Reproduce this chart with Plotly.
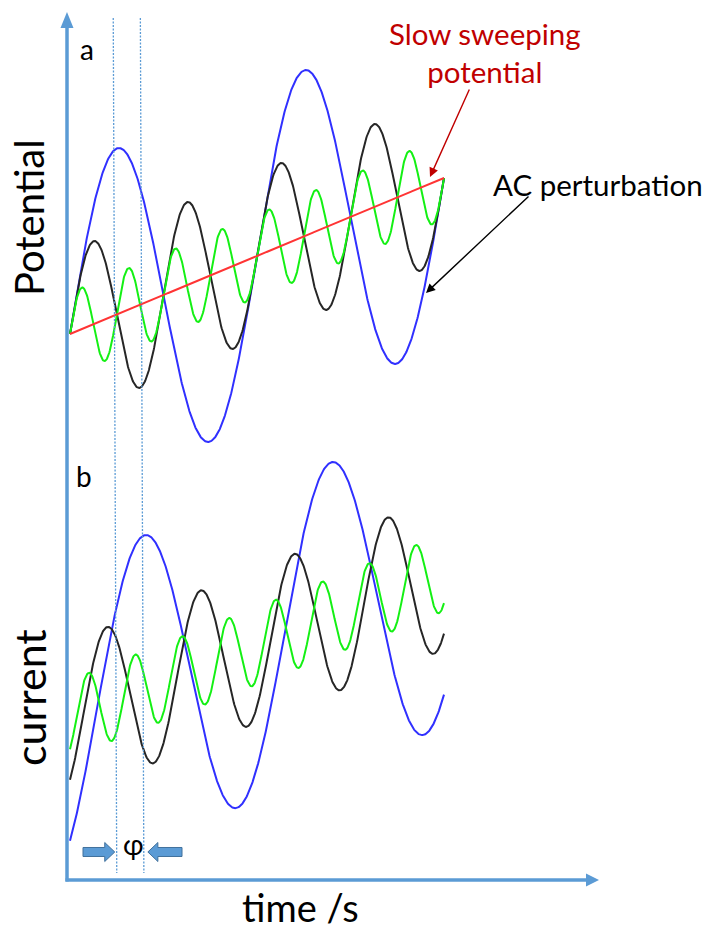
import numpy as np
import plotly.graph_objects as go

W, H = 707, 932

# ---- waveform description -------------------------------------------------
# three AC perturbations superimposed on a slow potential sweep (panel a)
# and the corresponding current responses (panel b)
wave_colors = ["#3030FF", "#262626", "#14F014"]     # blue, black, green
wave_cycles = [2, 4, 8]                              # cycles across the sweep
amp_potential = [2.0, 1.0, 0.5]                      # panel a amplitudes
amp_current = [1.86, 0.93, 0.465]                    # panel b amplitudes
phase_lag = [0.145, 0.145, 0.145]                    # lag of current, cycles
sweep_potential = [0.0, 1.88]                        # DC ramp start / end
sweep_current = [0.0, 1.76]                          # current baseline start / end

# ---- layout helpers (pixel -> paper) -------------------------------------
def px(x):
    return x / W

def py(y):
    return 1 - y / H

AXIS_BLUE = "#5B9BD5"
FONT = "Lato"

t = np.linspace(0, 1, 800)
fig = go.Figure()

ramp_a = sweep_potential[0] + (sweep_potential[1] - sweep_potential[0]) * t
ramp_b = sweep_current[0] + (sweep_current[1] - sweep_current[0]) * t

for col, cyc, a in zip(wave_colors, wave_cycles, amp_potential):
    fig.add_trace(go.Scatter(x=t, y=ramp_a + a * np.sin(2 * np.pi * cyc * t),
                             mode="lines", line=dict(color=col, width=2),
                             yaxis="y", hoverinfo="skip"))
fig.add_trace(go.Scatter(x=t, y=ramp_a, mode="lines",
                         line=dict(color="#FF3434", width=2), yaxis="y",
                         hoverinfo="skip"))

for col, cyc, a, lag in zip(wave_colors, wave_cycles, amp_current, phase_lag):
    fig.add_trace(go.Scatter(x=t, y=ramp_b + a * np.sin(2 * np.pi * (cyc * t - lag)),
                             mode="lines", line=dict(color=col, width=2),
                             yaxis="y2", hoverinfo="skip"))

# time of the first blue maximum in each panel -> phase markers
t_peak_a = 0.25 / wave_cycles[0]
t_peak_b = (0.25 + phase_lag[0]) / wave_cycles[0]

X0, X1 = 70, 444            # pixel span of the sweep window
scale = (X1 - X0)
x_range = [-X0 / scale, (W - X0) / scale]
unit = 83.0                 # pixels per signal unit
base_a, base_b = 334.0, 718.7
y_range_a = [-(H - base_a) / unit, base_a / unit]
y_range_b = [-(H - base_b) / unit, base_b / unit]

def tx(tv):
    return X0 + tv * scale

shapes = []
# dotted guide lines through the blue maxima
for tv in (t_peak_a, t_peak_b):
    xb = tx(tv)
    shapes.append(dict(type="line", xref="paper", yref="paper",
                       x0=px(xb - 3.5), y0=py(18), x1=px(xb), y1=py(873),
                       line=dict(color=AXIS_BLUE, width=1.3, dash="2px,1.5px")))

# axes with arrow heads
shapes.append(dict(type="line", xref="paper", yref="paper",
                   x0=px(67), y0=py(881.5), x1=px(67), y1=py(24),
                   line=dict(color=AXIS_BLUE, width=3.5)))
shapes.append(dict(type="line", xref="paper", yref="paper",
                   x0=px(65.5), y0=py(880), x1=px(590), y1=py(880),
                   line=dict(color=AXIS_BLUE, width=3.5)))

def tri(points, color, line=None):
    path = "M " + " L ".join(f"{px(a):.5f},{py(b):.5f}" for a, b in points) + " Z"
    return dict(type="path", xref="paper", yref="paper", path=path,
                fillcolor=color, line=line or dict(width=0))

shapes.append(tri([(67, 12), (60.5, 28), (73.5, 28)], AXIS_BLUE))
shapes.append(tri([(599, 880), (586, 873.5), (586, 886.5)], AXIS_BLUE))

# block arrows pointing at the guide lines
def block_arrow(tip, tail, yc, direction):
    d = direction
    head = tip - d * 10
    pts = [(tail, yc - 4.5), (head, yc - 4.5), (head, yc - 9.5), (tip, yc),
           (head, yc + 9.5), (head, yc + 4.5), (tail, yc + 4.5)]
    return tri(pts, AXIS_BLUE, dict(color="#41719C", width=1))

shapes.append(block_arrow(tx(t_peak_a) - 2, 83, 852, 1))
shapes.append(block_arrow(tx(t_peak_b) + 4, 182, 852, -1))


def label(text, x, y, size, color="black", angle=0):
    return dict(text=text, x=px(x), y=py(y), xref="paper", yref="paper",
                xanchor="center", yanchor="middle", showarrow=False,
                textangle=angle,
                font=dict(size=size, color=color, family=FONT))


annotations = [
    label("Potential", 29, 218, 40, angle=-90),
    label("current", 29, 698, 43, angle=-90),
    label("time /s", 300, 907, 38),
    label("a", 87, 49, 28),
    label("b", 84, 476, 28),
    label("\u03c6", 133, 844, 28),
    label("Slow sweeping<br>potential", 485, 52, 29.5, color="#C00000"),
    label("AC perturbation", 597.5, 184, 29.5),
    # pointer arrows (offsets in pixels from head to tail)
    dict(text="", x=px(430), y=py(177), ax=40, ay=-89, xref="paper", yref="paper",
         axref="pixel", ayref="pixel", showarrow=True, arrowhead=2,
         arrowsize=1.3, arrowwidth=1.4, arrowcolor="#C00000"),
    dict(text="", x=px(426), y=py(293), ax=104, ay=-98, xref="paper", yref="paper",
         axref="pixel", ayref="pixel", showarrow=True, arrowhead=2,
         arrowsize=1.3, arrowwidth=1.4, arrowcolor="black"),
]

fig.update_layout(
    width=W, height=H, autosize=False,
    margin=dict(l=0, r=0, t=0, b=0),
    paper_bgcolor="white", plot_bgcolor="white",
    showlegend=False,
    xaxis=dict(range=x_range, visible=False, domain=[0, 1]),
    yaxis=dict(range=y_range_a, visible=False, domain=[0, 1]),
    yaxis2=dict(range=y_range_b, visible=False, domain=[0, 1],
                overlaying="y"),
    shapes=shapes,
    annotations=annotations,
)

fig.write_html("out.html")
